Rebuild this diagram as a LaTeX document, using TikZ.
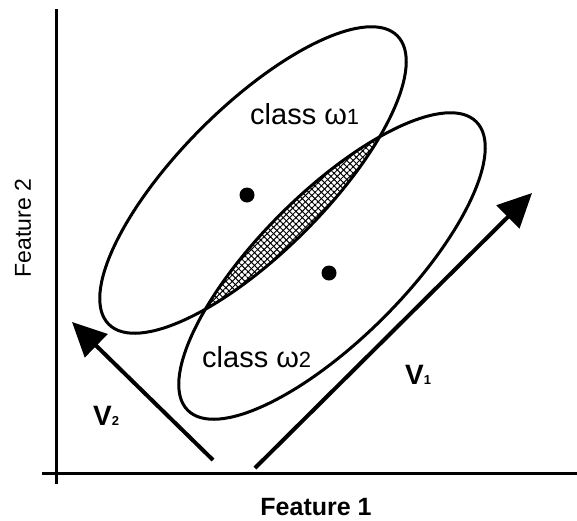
\documentclass[tikz,border=0pt]{standalone}
\usepackage{fontspec}
\setmainfont{Liberation Sans}
\usetikzlibrary{arrows.meta,patterns.meta}

\tikzset{
  axis/.style={line width=3pt},
  classline/.style={line width=3pt},
  vecarrow/.style={line width=4pt,-{Triangle[length=34pt,width=32pt]}},
  mean/.style={circle,fill,inner sep=0pt,minimum size=15pt},
  classlbl/.style={font=\fontsize{29}{34}\selectfont,inner sep=0pt,anchor=base west},
  veclbl/.style={font=\fontsize{28}{32}\selectfont\bfseries,inner sep=0pt,anchor=base west},
}
\newcommand{\smalldigit}[1]{{\fontsize{22}{22}\selectfont #1}}
\newcommand{\tinydigit}[1]{{\fontsize{13}{13}\selectfont #1}}

\begin{document}
\begin{tikzpicture}[x=1pt,y=-1pt]
\useasboundingbox (0,0) rectangle (577,520);

% axes
\coordinate (ytop) at (56,9);
\coordinate (ybot) at (56,484);
\coordinate (xbeg) at (42,473);
\coordinate (xend) at (577,473);
\draw[axis] (ybot) -- (ytop);
\draw[axis] (xbeg) -- (xend);
\node[rotate=90,font=\fontsize{23}{26}\selectfont] (f2) at (23,228) {Feature 2};
\node[font=\fontsize{25}{28}\selectfont\bfseries,anchor=base,inner sep=0pt] (f1) at (316,515) {Feature 1};

% overlap of the two classes
\coordinate (c1) at (253,180);
\coordinate (c2) at (332,266);
\begin{scope}
  \clip (c1) ellipse [x radius=204,y radius=73,rotate=45];
  \fill[pattern={Lines[angle=45,distance=4.5pt,line width=1pt]}]
    (c2) ellipse [x radius=204,y radius=73,rotate=45];
  \fill[pattern={Lines[angle=-45,distance=4.5pt,line width=1pt]}]
    (c2) ellipse [x radius=204,y radius=73,rotate=45];
\end{scope}
\draw[classline] (c1) ellipse [x radius=204,y radius=73,rotate=45];
\draw[classline] (c2) ellipse [x radius=204,y radius=73,rotate=45];

\node[mean] (m1) at (247,195) {};
\node[mean] (m2) at (329,273) {};
\node[classlbl] (w1) at (250,124) {class ω\smalldigit{1}};
\node[classlbl] (w2) at (202,367) {class ω\smalldigit{2}};

% projection directions
\coordinate (v1tail) at (255,468);
\coordinate (v1tip) at (532,193);
\coordinate (v2tail) at (213,460);
\coordinate (v2tip) at (72,322);
\draw[vecarrow] (v1tail) -- (v1tip);
\draw[vecarrow] (v2tail) -- (v2tip);
\node[veclbl] (v1) at (405,384) {V\tinydigit{1}};
\node[veclbl] (v2) at (93,425) {V\tinydigit{2}};
\end{tikzpicture}
\end{document}
